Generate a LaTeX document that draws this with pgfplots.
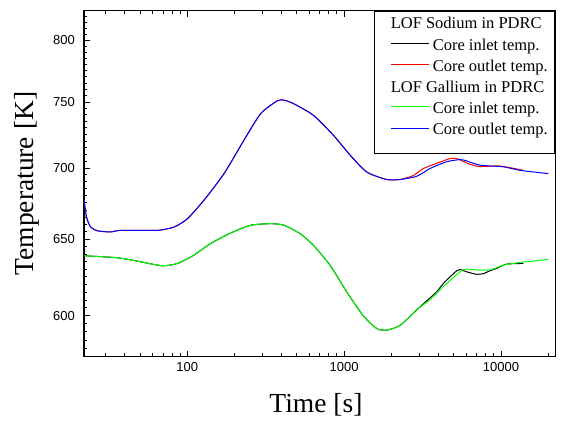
\documentclass[border=0pt]{standalone}
\usepackage{fontspec}
\setmainfont{Liberation Serif}
\newfontfamily\arialf{Liberation Sans}
\usepackage{pgfplots}
\pgfplotsset{compat=1.18}
\definecolor{pgreen}{RGB}{0,255,0}
\definecolor{pred}{RGB}{255,0,0}
\definecolor{pblue}{RGB}{0,0,255}
\newcommand\lline[1]{\textcolor{#1}{\rule[6.2pt]{38pt}{1pt}}}
\begin{document}
\begin{tikzpicture}
\begin{axis}[
  scale only axis, width=471.3pt, height=346pt,
  xmode=log, ymode=log,
  xmin=21.95, xmax=22180, ymin=575, ymax=825,
  xtick={100,1000,10000}, xticklabels={100,1000,10000},
  minor xtick={30,40,50,60,70,80,90,200,300,400,500,600,700,800,900,2000,3000,4000,5000,6000,7000,8000,9000,20000},
  ytick={600,650,700,750,800}, yticklabels={600,650,700,750,800},
  minor ytick={580,585,...,820},
  tick align=inside, xtick pos=both, ytick pos=left,
  major tick length=6pt, minor tick length=3.5pt,
  axis line style={line width=1.3pt},
  tick style={line width=1pt, black},
  tick label style={font=\arialf\fontsize{13}{13}\selectfont, inner sep=0pt},
  yticklabel style={xshift=-9pt},
  xticklabel style={yshift=-6pt},
  xlabel={Time [s]}, ylabel={Temperature [K]},
  every axis x label/.style={at={(axis description cs:0.5,0)}, anchor=base, yshift=-56.3pt, xshift=-3.7pt, font=\fontsize{27.5}{30}\selectfont},
  every axis y label/.style={at={(axis description cs:0,0.5)}, xshift=-50.7pt, rotate=90, anchor=base, font=\fontsize{27.5}{30}\selectfont},
  every axis plot/.append style={smooth, tension=0.4, line width=1pt},
]
% Sodium, core outlet (red)
\addplot[pred] coordinates {
(21.95,677) (22.8,665) (24.2,658.3) (26.7,655.7) (32.5,654.9) (37.6,656) (64.4,656) (82.3,658.3)
(100,664) (127.8,677) (171.4,696) (229.8,720.7) (293.8,741) (374.8,751) (413.5,751.5) (474,748.9)
(635.8,739.8) (852.7,724.5) (1090,709.6) (1393,697.2) (1867,691.7) (2271,691.7)
(2384,692.3) (2760,694.6) (3196,699.7) (3890,703.5) (4728,707) (5217,707) (6342,702.9)
(7346,701.2) (9853,701.5) (13875,698.4)};
% Sodium, core inlet (black)
\addplot[black] coordinates {
(21.95,638.8) (35.8,637.5) (50.5,634.8) (69.3,632.2) (86.4,633.7) (110.3,639.3) (141,647.1)
(189.1,654.2) (253.6,659.5) (340.2,660.6) (413.5,659.5) (523,653.8) (635.8,645.9) (812.4,632.6)
(1038,615.2) (1325,600) (1613,592.1) (1867,591.1) (2271,594.1) (2900,603.7) (3701,613.2)
(3890,615.2) (4287,620.6) (4728,624.9) (5217,628.9) (5477,629.8) (6043,628.2) (6998,626.6)
(7713,627) (8506,628.9) (9389,630.5) (10871,633.3) (13875,633.7)};
% Gallium, core inlet (green)
\addplot[pgreen] coordinates {
(21.95,638.8) (35.8,637.5) (50.5,634.8) (69.3,632.2) (86.4,633.7) (110.3,639.3) (141,647.1)
(189.1,654.2) (253.6,659.5) (340.2,660.6) (413.5,659.5) (523,653.8) (635.8,645.9) (812.4,632.6)
(1038,615.2) (1325,600) (1613,592.1) (1867,591.1) (2271,594.1) (2900,603.7) (3526,610.3)
(4506,620.6) (5750,629.6) (6998,629.4) (8506,629.4) (10344,632.6) (13217,634.4) (16890,635.5)
(20030,636.6)};
% Gallium, core outlet (blue)
\addplot[pblue] coordinates {
(21.95,677) (22.8,665) (24.2,658.3) (26.7,655.7) (32.5,654.9) (37.6,656) (64.4,656) (82.3,658.3)
(100,664) (127.8,677) (171.4,696) (229.8,720.7) (293.8,741) (374.8,751) (413.5,751.5) (474,748.9)
(635.8,739.8) (852.7,724.5) (1090,709.6) (1393,697.2) (1867,691.7) (2271,691.7) (2900,694.1)
(3526,699.7) (4506,704.7) (5477,706.3) (6043,705.3) (7346,702.2) (10344,701) (13217,698.4)
(20030,696)};
\end{axis}
\node[draw=black, line width=1pt, fill=white, inner sep=0pt, anchor=north east,
      font=\fontsize{16.5}{21.2}\selectfont] at (current axis.north east) {%
\begin{tabular}{@{\hspace{16pt}}l@{\hspace{4pt}}l@{\hspace{7pt}}}
\multicolumn{2}{@{\hspace{16pt}}l@{\hspace{7pt}}}{\rule{0pt}{17.7pt}LOF Sodium in PDRC}\\
\lline{black} & Core inlet temp.\\
\lline{pred} & Core outlet temp.\\
\multicolumn{2}{@{\hspace{16pt}}l@{\hspace{7pt}}}{LOF Gallium in PDRC}\\
\lline{pgreen} & Core inlet temp.\\
\lline{pblue} & Core outlet temp.\rule[-18.5pt]{0pt}{1pt}
\end{tabular}};
\path (current axis.south west) ++(-84pt,-69.3pt) rectangle ++(584pt,426pt);
\end{tikzpicture}
\end{document}
